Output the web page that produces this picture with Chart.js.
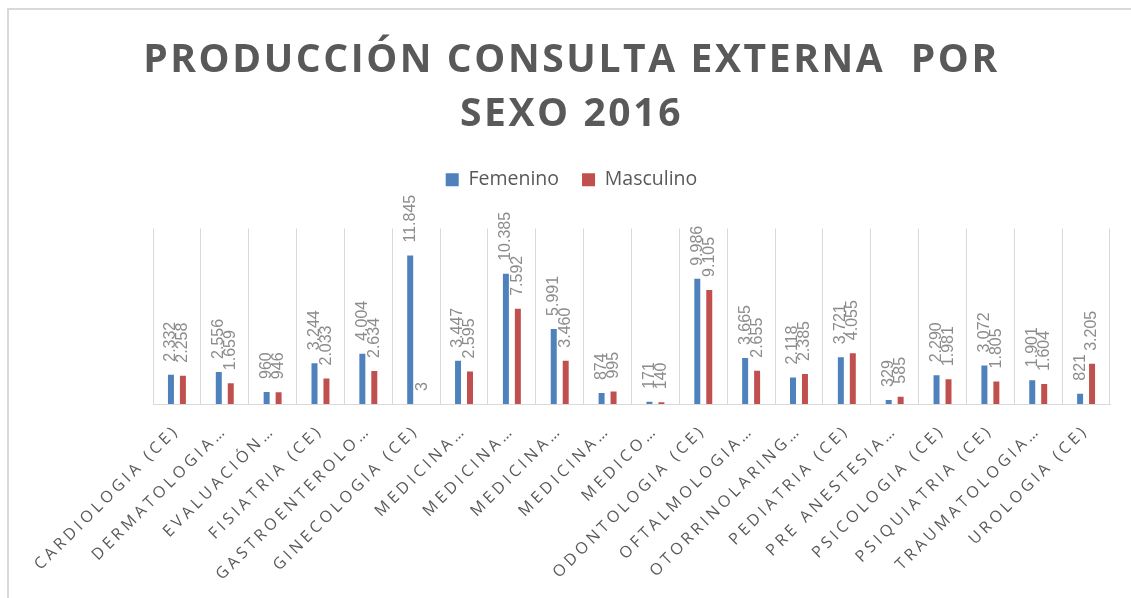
<!DOCTYPE html>
<html>
<head>
<meta charset="utf-8">
<script src="https://cdn.jsdelivr.net/npm/chart.js@4"></script>
<style>
  html, body { margin: 0; padding: 0; background: #fff; }
  #wrap { position: relative; width: 1131px; height: 598px; overflow: hidden; }
  #frame { position: absolute; left: 7px; top: 8px; width: 1200px; height: 700px;
           border-left: 2px solid #d9d9d9; border-top: 2px solid #d9d9d9; }
  canvas { position: absolute; left: 0; top: 0; }
</style>
</head>
<body>
<div id="wrap">
  <div id="frame"></div>
  <canvas id="c" width="1131" height="598"></canvas>
</div>
<script>
// Producción consulta externa por sexo 2016
var especialidades = [
  'CARDIOLOGIA (CE)', 'DERMATOLOGIA…', 'EVALUACIÓN…', 'FISIATRIA (CE)', 'GASTROENTEROLO…',
  'GINECOLOGIA (CE)', 'MEDICINA…', 'MEDICINA…', 'MEDICINA…', 'MEDICINA…',
  'MEDICO…', 'ODONTOLOGIA (CE)', 'OFTALMOLOGIA…', 'OTORRINOLARING…', 'PEDIATRIA (CE)',
  'PRE ANESTESIA…', 'PSICOLOGIA (CE)', 'PSIQUIATRIA (CE)', 'TRAUMATOLOGIA…', 'UROLOGIA (CE)'
];
var femenino = [2332, 2556, 960, 3244, 4004, 11845, 3447, 10385, 5991, 874,
                171, 9986, 3665, 2118, 3721, 329, 2290, 3072, 1901, 821];
var masculino = [2258, 1659, 946, 2033, 2634, 3, 2595, 7592, 3460, 995,
                 140, 9105, 2655, 2385, 4055, 585, 1981, 1805, 1604, 3205];
var titulo = ['PRODUCCIÓN CONSULTA EXTERNA  POR', 'SEXO 2016'];

var GRIS = '#595959';

function miles(v) {
  return String(v).replace(/\B(?=(\d{3})+(?!\d))/g, '.');
}

// letter spacing nur für Titel und Achsenbeschriftung
function spaced(obj, method, sp) {
  var orig = obj[method];
  obj[method] = function () {
    var c = this.ctx, prev = c.letterSpacing;
    c.letterSpacing = sp;
    try { return orig.apply(this, arguments); } finally { c.letterSpacing = prev; }
  };
}

var spacingPlugin = {
  id: 'spacing',
  beforeLayout: function (chart) {
    if (chart._spaced) return;
    chart._spaced = true;
    spaced(chart.scales.x, 'update', '3.7px');
    spaced(chart.scales.x, 'drawLabels', '3.7px');
    if (chart.titleBlock) spaced(chart.titleBlock, 'draw', '2.6px');
  }
};

// vertikale Datenbeschriftungen über den Balken
var labelsPlugin = {
  id: 'vlabels',
  afterDatasetsDraw: function (chart) {
    var ctx = chart.ctx;
    chart.data.datasets.forEach(function (ds, i) {
      var meta = chart.getDatasetMeta(i);
      meta.data.forEach(function (bar, j) {
        ctx.save();
        ctx.translate(bar.x, bar.y - 13);
        ctx.rotate(-Math.PI / 2);
        ctx.font = '16px "Liberation Sans", Arial, sans-serif';
        ctx.fillStyle = '#8c8c8c';
        ctx.textAlign = 'left';
        ctx.textBaseline = 'middle';
        ctx.fillText(miles(ds.data[j]), 0, 0);
        ctx.restore();
      });
    });
  }
};

new Chart(document.getElementById('c').getContext('2d'), {
  type: 'bar',
  data: {
    labels: especialidades,
    datasets: [
      { label: 'Femenino', data: femenino, backgroundColor: '#4f81bd', categoryPercentage: 0.5, barPercentage: 0.5 },
      { label: 'Masculino', data: masculino, backgroundColor: '#c0504d', categoryPercentage: 0.5, barPercentage: 0.5 }
    ]
  },
  options: {
    responsive: false,
    animation: false,
    layout: { padding: { left: 12 } },
    plugins: {
      tooltip: { enabled: false },
      title: {
        display: true, text: titulo, color: GRIS,
        font: { family: '"Open Sans", sans-serif', size: 39, weight: 'bold', lineHeight: 1.385 },
        padding: { top: 34, bottom: 5 }
      },
      legend: {
        position: 'top',
        labels: {
          color: GRIS, boxWidth: 13, boxHeight: 13, padding: 23,
          font: { family: '"Open Sans", sans-serif', size: 19.5 }
        }
      }
    },
    scales: {
      x: {
        grid: { offset: true, color: '#d9d9d9', drawTicks: false },
        border: { color: '#d9d9d9' },
        ticks: {
          autoSkip: false, minRotation: 45, maxRotation: 45, padding: 17,
          color: GRIS, font: { family: '"Open Sans", sans-serif', size: 16 }
        },
        afterFit: function (s) { s.height = 194; }
      },
      xTop: {
        type: 'category', position: 'top', labels: [''],
        grid: { display: false }, border: { display: false }, ticks: { display: false },
        afterFit: function (s) { s.height = 29; }
      },
      y: {
        min: 0, max: 14000,
        grid: { display: false }, border: { display: false }, ticks: { display: false },
        afterFit: function (s) { s.width = 141; }
      },
      yRight: {
        type: 'linear', position: 'right',
        grid: { display: false }, border: { display: false }, ticks: { display: false },
        afterFit: function (s) { s.width = 21; }
      }
    }
  },
  plugins: [spacingPlugin, labelsPlugin]
});
</script>
</body>
</html>
